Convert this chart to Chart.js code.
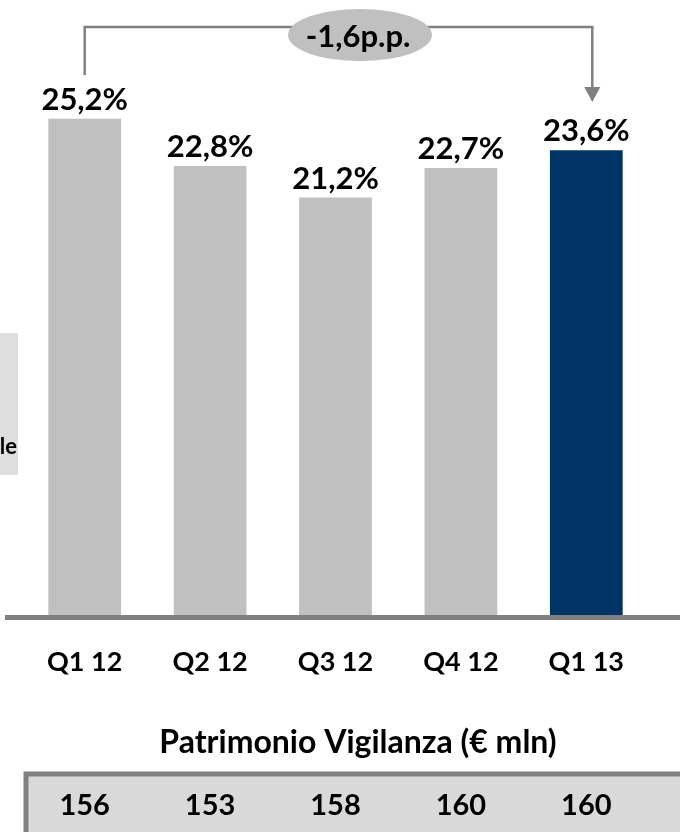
<!DOCTYPE html>
<html>
<head>
<meta charset="utf-8">
<script src="https://cdn.jsdelivr.net/npm/chart.js@4"></script>
<style>
  body { margin: 0; background: #fff; }
  #wrap { width: 680px; height: 832px; position: relative; }
</style>
</head>
<body>
<div id="wrap"><canvas id="ratioChart"></canvas></div>
<script>
// Data
const quarters = ['Q1 12', 'Q2 12', 'Q3 12', 'Q4 12', 'Q1 13']
const ratioValues = [25.2, 22.8, 21.2, 22.7, 23.6]
const ratioLabels = ['25,2%', '22,8%', '21,2%', '22,7%', '23,6%']
const patrimonioValues = [156, 153, 158, 160, 160]
const deltaLabel = '-1,6p.p.'
const tableTitle = 'Patrimonio Vigilanza (€ mln)'
const sideText = 'le'

const FONT = 'Lato, "Open Sans", sans-serif'
const barColors = ['#c0c0c0', '#c0c0c0', '#c0c0c0', '#c0c0c0', '#003366']

// draws labels, bracket, axis line and the table under the chart
const extrasPlugin = {
    id: 'extras',
    afterDatasetsDraw(chart) {
        const ctx = chart.ctx
        const area = chart.chartArea
        const xScale = chart.scales.x
        const meta = chart.getDatasetMeta(0)
        ctx.save()

        // left cut-off box
        ctx.fillStyle = '#dedede'
        ctx.fillRect(0, 333, 18, 142)
        ctx.fillStyle = '#000'
        ctx.font = 'bold 22px ' + FONT
        ctx.textAlign = 'right'
        ctx.textBaseline = 'alphabetic'
        ctx.fillText(sideText, 17, 454)

        // base line
        ctx.strokeStyle = '#808080'
        ctx.lineWidth = 5
        ctx.beginPath()
        ctx.moveTo(5, area.bottom + 2)
        ctx.lineTo(680, area.bottom + 2)
        ctx.stroke()

        // value labels
        ctx.fillStyle = '#000'
        ctx.font = 'bold 31px ' + FONT
        ctx.textAlign = 'center'
        ctx.textBaseline = 'alphabetic'
        meta.data.forEach((bar, i) => {
            ctx.fillText(ratioLabels[i], bar.x, bar.y - 9)
        })

        // bracket from first to last bar
        const first = meta.data[0]
        const last = meta.data[meta.data.length - 1]
        const yTop = 27
        const xEnd = last.x + 6
        ctx.strokeStyle = '#808080'
        ctx.lineWidth = 2.5
        ctx.beginPath()
        ctx.moveTo(first.x, 75)
        ctx.lineTo(first.x, yTop)
        ctx.lineTo(xEnd, yTop)
        ctx.lineTo(xEnd, 88)
        ctx.stroke()
        ctx.fillStyle = '#808080'
        ctx.beginPath()
        ctx.moveTo(xEnd - 8, 87)
        ctx.lineTo(xEnd + 8, 87)
        ctx.lineTo(xEnd, 102)
        ctx.closePath()
        ctx.fill()

        // ellipse with delta
        ctx.fillStyle = '#c0c0c0'
        ctx.beginPath()
        ctx.ellipse(360, 35, 72, 26, 0, 0, Math.PI * 2)
        ctx.fill()
        ctx.fillStyle = '#000'
        ctx.font = 'bold 31px ' + FONT
        ctx.fillText(deltaLabel, 358, 47)

        // table
        ctx.font = 'bold 32px ' + FONT
        ctx.fillText(tableTitle, 358, 753)
        ctx.fillStyle = '#d9d9d9'
        ctx.fillRect(26, 774, 660, 70)
        ctx.strokeStyle = '#808080'
        ctx.lineWidth = 5
        ctx.strokeRect(26, 774, 660, 70)
        ctx.fillStyle = '#000'
        ctx.font = 'bold 29px ' + FONT
        patrimonioValues.forEach((v, i) => {
            ctx.fillText(String(v), xScale.getPixelForValue(i), 815)
        })
        ctx.restore()
    }
}

const config = {
    type: 'bar',
    data: {
        labels: quarters,
        datasets: [{
            data: ratioValues,
            backgroundColor: barColors,
            borderWidth: 0,
            categoryPercentage: 1,
            barPercentage: 0.58
        }]
    },
    options: {
        responsive: true,
        maintainAspectRatio: false,
        animation: false,
        layout: { padding: { left: 22, right: 31, top: 24, bottom: 124 } },
        scales: {
            x: {
                grid: { display: false, drawTicks: false },
                border: { display: false },
                ticks: { color: '#000', font: { family: FONT, size: 27, weight: 'bold' }, padding: 30 }
            },
            y: { display: false, min: 0, max: 30 }
        },
        plugins: { legend: { display: false }, tooltip: { enabled: false } }
    },
    plugins: [extrasPlugin]
}

const ratioChart = new Chart(document.getElementById('ratioChart'), config)
</script>
</body>
</html>
